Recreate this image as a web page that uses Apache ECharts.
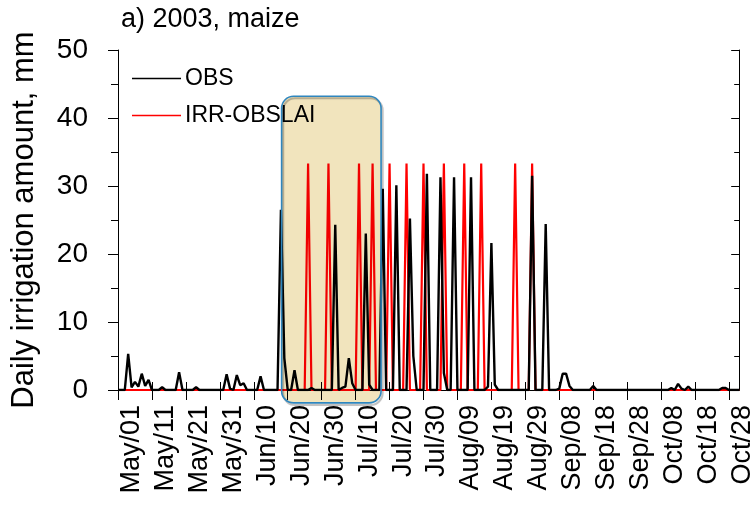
<!DOCTYPE html>
<html>
<head>
<meta charset="utf-8">
<script src="https://cdn.jsdelivr.net/npm/echarts@6/dist/echarts.min.js"></script>
<style>
  html, body { margin: 0; padding: 0; background: #fff; }
  #main { width: 756px; height: 505px; }
</style>
</head>
<body>
<div id="main"></div>
<script>
  // daily axis May/01 .. Oct/31, labelled every 10th day
  const MONTHS = ["May", "Jun", "Jul", "Aug", "Sep", "Oct"];
  const MONTH_LEN = [31, 30, 31, 31, 30, 31];

  // observed irrigation (mm); days not listed are 0
  const OBS_EVENTS = [
    ["May/04", 5.3], ["May/05", 0.4], ["May/06", 1.2], ["May/07", 0.5], ["May/08", 2.4],
    ["May/09", 0.6], ["May/10", 1.5], ["May/14", 0.4], ["May/19", 2.6], ["May/24", 0.4],
    ["Jun/02", 2.3], ["Jun/03", 0.2], ["Jun/05", 2.2], ["Jun/06", 0.7], ["Jun/07", 1.0],
    ["Jun/12", 2.0], ["Jun/18", 26.5], ["Jun/19", 4.7], ["Jun/22", 2.9], ["Jun/27", 0.3],
    ["Jul/04", 24.3], ["Jul/06", 0.3], ["Jul/07", 0.5], ["Jul/08", 4.7], ["Jul/09", 1.0],
    ["Jul/13", 23.0], ["Jul/14", 0.8], ["Jul/18", 29.6], ["Jul/22", 30.1], ["Jul/26", 25.2],
    ["Jul/27", 5.0], ["Jul/31", 31.8], ["Aug/04", 31.3], ["Aug/05", 2.5], ["Aug/08", 31.3],
    ["Aug/13", 31.3], ["Aug/18", 0.5], ["Aug/19", 21.6], ["Aug/20", 0.8], ["Aug/31", 31.5],
    ["Sep/04", 24.4], ["Sep/08", 0.2], ["Sep/09", 2.4], ["Sep/10", 2.4], ["Sep/11", 0.6],
    ["Sep/18", 0.6], ["Oct/11", 0.3], ["Oct/13", 0.9], ["Oct/14", 0.2], ["Oct/16", 0.5],
    ["Oct/26", 0.3], ["Oct/27", 0.3],
  ];

  // simulated IRR-OBSLAI events (mm)
  const IRR_EVENTS = [
    ["Jun/26", 33.3], ["Jul/02", 33.3], ["Jul/11", 33.3], ["Jul/15", 33.3],
    ["Jul/20", 33.3], ["Jul/25", 33.3], ["Jul/30", 33.3], ["Aug/05", 33.3],
    ["Aug/11", 33.3], ["Aug/16", 33.3], ["Aug/26", 33.3], ["Aug/31", 33.3],
  ];

  // highlighted period (day index, mm)
  const BOX_DAYS = [48.2, 77.5];
  const BOX_MM = [43.2, -1.9];

  const FONT = "Liberation Sans, Arial, sans-serif";

  const days = [];
  MONTHS.forEach((m, i) => {
    for (let d = 1; d <= MONTH_LEN[i]; d++) days.push(m + "/" + String(d).padStart(2, "0"));
  });

  function daily(events) {
    const map = new Map(events);
    return days.map((d) => (map.has(d) ? map.get(d) : 0));
  }

  const AX = { color: "#000", width: 1 };

  const chart = echarts.init(document.getElementById("main"), null, { renderer: "canvas" });
  chart.setOption({
    animation: false,
    title: {
      text: "a) 2003, maize", left: 116, top: 1,
      textStyle: { fontFamily: FONT, fontSize: 27, fontWeight: "normal", color: "#000" },
    },
    legend: {
      data: ["OBS", "IRR-OBSLAI"], orient: "vertical", left: 127, top: 62,
      icon: "rect", itemWidth: 49, itemHeight: 1.6, itemGap: 14,
      textStyle: { fontFamily: FONT, fontSize: 23, color: "#000", padding: [0, 0, 0, -1] },
    },
    grid: { left: 118, right: 16, top: 50, bottom: 115 },
    xAxis: [
      {
        type: "category", data: days, boundaryGap: false,
        axisLine: { lineStyle: AX },
        axisTick: { interval: 9, length: 10, lineStyle: AX },
        axisLabel: {
          interval: 9, rotate: 90, verticalAlign: "top",
          fontFamily: FONT, fontSize: 27, color: "#000", margin: 15,
        },
        splitLine: { show: false },
      },
      {
        type: "category", data: days, boundaryGap: false, position: "top",
        axisLine: { lineStyle: AX },
        axisTick: { interval: 9, length: 8, lineStyle: AX },
        axisLabel: { show: false },
        splitLine: { show: false },
      },
    ],
    yAxis: [
      {
        type: "value", min: 0, max: 50, interval: 10,
        name: "Daily irrigation amount, mm", nameLocation: "middle", nameRotate: 90, nameGap: 78,
        nameTextStyle: { fontFamily: FONT, fontSize: 31, color: "#000" },
        axisLine: { show: true, lineStyle: AX },
        axisTick: { show: true, length: 10, lineStyle: AX },
        minorTick: { show: true, splitNumber: 2, length: 7, lineStyle: AX },
        axisLabel: { fontFamily: FONT, fontSize: 28, color: "#000", margin: 30 },
        splitLine: { show: false },
      },
      {
        type: "value", min: 0, max: 50, interval: 10, position: "right",
        axisLine: { show: true, lineStyle: AX },
        axisTick: { show: true, inside: true, length: 8, lineStyle: AX },
        minorTick: { show: true, splitNumber: 2, length: 5, lineStyle: AX },
        axisLabel: { show: false },
        splitLine: { show: false },
      },
    ],
    series: [
      {
        name: "IRR-OBSLAI", type: "line", data: daily(IRR_EVENTS), symbol: "none",
        lineStyle: { color: "#f00", width: 2.2 }, itemStyle: { color: "#f00" },
      },
      {
        name: "OBS", type: "line", data: daily(OBS_EVENTS), symbol: "none",
        lineStyle: { color: "#000", width: 2.4 }, itemStyle: { color: "#000" },
      },
    ],
  });

  // rounded highlight box over the early-season period
  const px = (i) => chart.convertToPixel({ xAxisIndex: 0 }, i);
  const step = px(1) - px(0);
  const dx = (v) => px(Math.floor(v)) + (v - Math.floor(v)) * step;
  const x0 = dx(BOX_DAYS[0]), x1 = dx(BOX_DAYS[1]);
  const y0 = chart.convertToPixel({ yAxisIndex: 0 }, BOX_MM[0]);
  const y1 = chart.convertToPixel({ yAxisIndex: 0 }, BOX_MM[1]);
  const boxShape = { x: x0, y: y0, width: x1 - x0, height: y1 - y0, r: 12 };
  const shadowShape = { ...boxShape, x: x0 + 1.5, y: y0 + 2 };
  chart.setOption({
    graphic: [
      {
        type: "rect", z: 98, shape: shadowShape,
        style: { fill: null, stroke: "rgba(0,0,0,0.22)", lineWidth: 2.2, shadowBlur: 2, shadowColor: "rgba(0,0,0,0.2)" },
      },
      {
        type: "rect", z: 99, shape: boxShape,
        style: { fill: "#F1E4BD", stroke: null, blend: "multiply" },
      },
      {
        type: "rect", z: 100, shape: boxShape,
        style: { fill: null, stroke: "#2F86BE", lineWidth: 1.6 },
      },
    ],
  });
</script>
</body>
</html>
